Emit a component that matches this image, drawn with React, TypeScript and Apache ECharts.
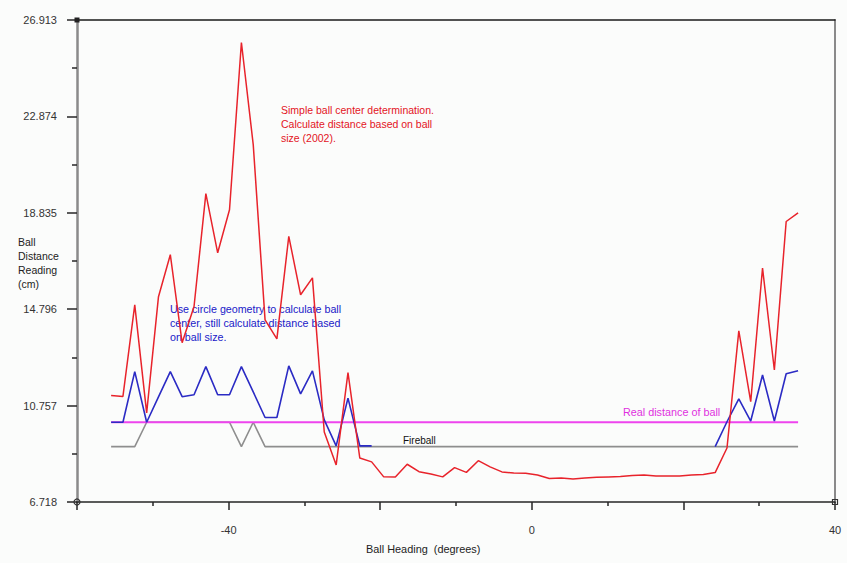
import React, { useEffect, useRef } from "react";
import * as echarts from "echarts";

// Ball heading (degrees) of each sample
const HEADINGS = [
  -55.5, -53.94, -52.38, -50.81, -49.25, -47.69, -46.13, -44.56, -43.0, -41.44,
  -39.88, -38.31, -36.75, -35.19, -33.63, -32.06, -30.5, -28.94, -27.38, -25.81,
  -24.25, -22.69, -21.13, -19.56, -18.0, -16.44, -14.88, -13.31, -11.75, -10.19,
  -8.63, -7.06, -5.5, -3.94, -2.38, -0.81, 0.75, 2.31, 3.88, 5.44,
  7.0, 8.56, 10.13, 11.69, 13.25, 14.81, 16.38, 17.94, 19.5, 21.06,
  22.63, 24.19, 25.75, 27.31, 28.88, 30.44, 32.0, 33.56, 35.13,
];

// Simple ball center determination (2002)
const SIMPLE_CENTER = [
  11.18, 11.14, 14.98, 10.45, 15.32, 17.08, 13.39, 14.91, 19.64, 17.16,
  18.96, 25.97, 21.69, 14.35, 13.55, 17.85, 15.4, 16.11, 9.65, 8.27,
  12.14, 8.56, 8.4, 7.78, 7.77, 8.3, 7.99, 7.89, 7.77, 8.16,
  7.96, 8.45, 8.19, 7.98, 7.93, 7.92, 7.85, 7.7, 7.72, 7.68,
  7.72, 7.75, 7.77, 7.79, 7.83, 7.85, 7.81, 7.81, 7.81, 7.85,
  7.87, 7.95, 8.98, 13.89, 10.92, 16.52, 12.25, 18.47, 18.83,
];

// Circle geometry for ball center
const CIRCLE_GEOMETRY: (number | null)[] = [
  10.06, 10.06, 12.18, 10.06, 11.12, 12.18, 11.13, 11.21, 12.39, 11.21,
  11.21, 12.39, 11.33, 10.26, 10.26, 12.42, 11.25, 12.21, 10.16, 9.07,
  11.07, 9.07, 9.07, null, null, null, null, null, null, null,
  null, null, null, null, null, null, null, null, null, null,
  null, null, null, null, null, null, null, null, null, null,
  null, 9.04, 10.08, 11.04, 10.11, 12.04, 10.11, 12.09, 12.22,
];

// Fireball
const FIREBALL = [
  9.04, 9.04, 9.04, 10.06, 10.06, 10.06, 10.06, 10.06, 10.06, 10.06,
  10.06, 9.04, 10.06, 9.04, 9.04, 9.04, 9.04, 9.04, 9.04, 9.04,
  9.04, 9.04, 9.04, 9.04, 9.04, 9.04, 9.04, 9.04, 9.04, 9.04,
  9.04, 9.04, 9.04, 9.04, 9.04, 9.04, 9.04, 9.04, 9.04, 9.04,
  9.04, 9.04, 9.04, 9.04, 9.04, 9.04, 9.04, 9.04, 9.04, 9.04,
  9.04, 9.04, 9.04, 9.04, 9.04, 9.04, 9.04, 9.04, 9.04,
];

const REAL_DISTANCE = 10.06;

const Y_MIN = 6.718;
const Y_STEP = 4.039;
const Y_TICK_COUNT = 5;
const X_MIN = -60;
const X_MAX = 40;
const X_STEP = 20;
const X_LABELS = [-40, 0, 40];

const FONT = "'Liberation Sans', Arial, sans-serif";

export default function App() {
  const ref = useRef<HTMLDivElement>(null);

  useEffect(() => {
    if (!ref.current) return;
    const chart = echarts.init(ref.current, undefined, { renderer: "svg" });
    const ySpan = Y_STEP * Y_TICK_COUNT;
    const toPairs = (vals: (number | null)[]) =>
      vals.map((v, i) => [HEADINGS[i], v == null ? "-" : v - Y_MIN]);

    const axisDark = "#262626";
    const option: any = {
      animation: false,
      backgroundColor: "#fbfcfb",
      grid: { left: 77, right: 12, top: 20, bottom: 61, containLabel: false },
      xAxis: [
        {
          type: "value",
          min: X_MIN,
          max: X_MAX,
          interval: X_STEP,
          position: "bottom",
          axisLine: { show: true, onZero: false, lineStyle: { color: axisDark, width: 1.5 } },
          axisTick: { show: true, length: 8, lineStyle: { color: axisDark, width: 1.5 } },
          minorTick: { show: true, splitNumber: 2, length: 4, lineStyle: { color: axisDark, width: 1.5 } },
          axisLabel: {
            margin: 22,
            color: "#333",
            fontSize: 11,
            fontFamily: FONT,
            formatter: (v: number) => (X_LABELS.indexOf(Math.round(v)) >= 0 ? String(Math.round(v)) : ""),
          },
          splitLine: { show: false },
        },
        {
          type: "value",
          min: X_MIN,
          max: X_MAX,
          position: "top",
          axisLine: { show: true, onZero: false, lineStyle: { color: "#1a1a1a", width: 1.5 } },
          axisTick: { show: false },
          axisLabel: { show: false },
          splitLine: { show: false },
        },
      ],
      yAxis: [
        {
          type: "value",
          min: 0,
          max: ySpan,
          interval: Y_STEP,
          axisLine: { show: true, onZero: false, lineStyle: { color: "#8a8a8a", width: 2.5 } },
          axisTick: { show: true, length: 10, lineStyle: { color: axisDark, width: 1.5 } },
          minorTick: { show: true, splitNumber: 2, length: 5, lineStyle: { color: axisDark, width: 1.5 } },
          axisLabel: {
            margin: 20,
            color: "#333",
            fontSize: 11,
            fontFamily: FONT,
            formatter: (v: number) => (v + Y_MIN).toFixed(3),
          },
          splitLine: { show: false },
        },
        {
          type: "value",
          min: 0,
          max: ySpan,
          position: "right",
          axisLine: { show: true, onZero: false, lineStyle: { color: "#8a8a8a", width: 2 } },
          axisTick: { show: false },
          axisLabel: { show: false },
          splitLine: { show: false },
        },
      ],
      series: [
        {
          name: "Fireball",
          type: "line",
          data: toPairs(FIREBALL),
          showSymbol: false,
          lineStyle: { color: "#8e8e8e", width: 1.6 },
          z: 2,
        },
        {
          name: "Real distance of ball",
          type: "line",
          data: [
            [HEADINGS[0], REAL_DISTANCE - Y_MIN],
            [HEADINGS[HEADINGS.length - 1], REAL_DISTANCE - Y_MIN],
          ],
          showSymbol: false,
          lineStyle: { color: "#ee44ee", width: 2 },
          z: 3,
        },
        {
          name: "Circle geometry",
          type: "line",
          data: toPairs(CIRCLE_GEOMETRY),
          showSymbol: false,
          connectNulls: false,
          lineStyle: { color: "#2b2bc4", width: 1.6 },
          z: 4,
        },
        {
          name: "Simple ball center",
          type: "line",
          data: toPairs(SIMPLE_CENTER),
          showSymbol: false,
          lineStyle: { color: "#e8232b", width: 1.5 },
          z: 5,
        },
      ],
      graphic: [
        {
          type: "text",
          left: 281,
          top: 103,
          style: {
            text: "Simple ball center determination.\nCalculate distance based on ball\nsize (2002).",
            fill: "#e3141e",
            font: `10.5px ${FONT}`,
            lineHeight: 14,
          },
        },
        {
          type: "text",
          left: 170,
          top: 302,
          style: {
            text: "Use circle geometry to calculate ball\ncenter, still calculate distance based\non ball size.",
            fill: "#2020c8",
            font: `10.7px ${FONT}`,
            lineHeight: 14,
          },
        },
        {
          type: "text",
          left: 623,
          top: 405,
          style: { text: "Real distance of ball", fill: "#e030e0", font: `10.8px ${FONT}`, lineHeight: 14 },
        },
        {
          type: "text",
          left: 403,
          top: 433,
          style: { text: "Fireball", fill: "#111", font: `10px ${FONT}`, lineHeight: 14 },
        },
        {
          type: "text",
          left: 18,
          top: 235,
          style: {
            text: "Ball\nDistance\nReading\n(cm)",
            fill: "#222",
            font: `10.5px ${FONT}`,
            lineHeight: 14,
          },
        },
        {
          type: "text",
          left: 366,
          top: 542,
          style: { text: "Ball Heading  (degrees)", fill: "#222", font: `10.9px ${FONT}`, lineHeight: 14 },
        },
        {
          type: "rect",
          shape: { x: 74.5, y: 17.5, width: 5, height: 5 },
          style: { fill: "#222" },
          z: 10,
        },
        {
          type: "circle",
          shape: { cx: 77, cy: 502, r: 3 },
          style: { fill: "none", stroke: "#333", lineWidth: 1.2 },
          z: 10,
        },
        {
          type: "rect",
          shape: { x: 832.5, y: 499.5, width: 5, height: 5 },
          style: { fill: "none", stroke: "#333", lineWidth: 1.2 },
          z: 10,
        },
      ],
    };
    chart.setOption(option);
    return () => chart.dispose();
  }, []);

  return (
    <div
      ref={ref}
      style={{ position: "absolute", left: 0, top: 0, width: 847, height: 563, background: "#fbfcfb" }}
    />
  );
}
